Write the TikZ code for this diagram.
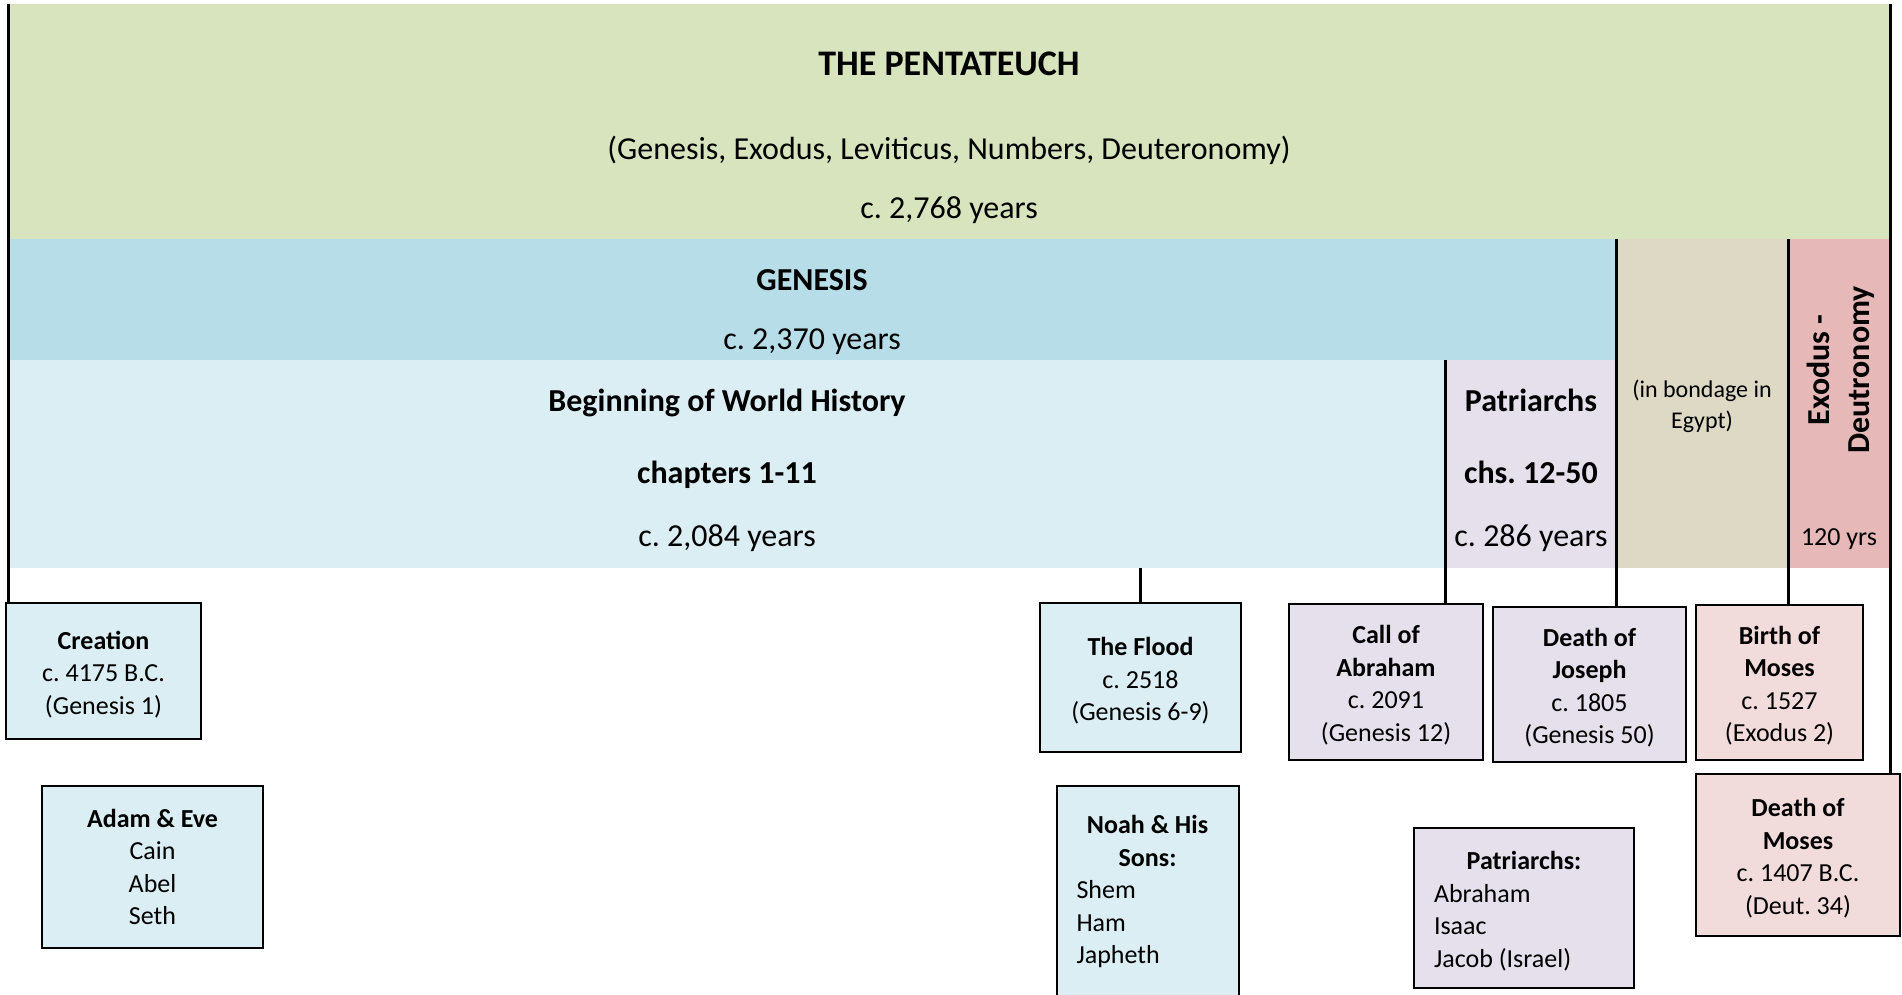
\documentclass[tikz,border=0pt]{standalone}
\usepackage{fontspec}
\setmainfont{Carlito}
\usepackage{tikz}
\usetikzlibrary{positioning,calc}
\frenchspacing

\definecolor{pentgreen}{HTML}{D7E4BD}
\definecolor{genblue}{HTML}{B7DDE8}
\definecolor{worldblue}{HTML}{DBEEF4}
\definecolor{patrlilac}{HTML}{E5E0EC}
\definecolor{egypttan}{HTML}{DDD9C4}
\definecolor{exodpink}{HTML}{E6B9B8}
\definecolor{mosespink}{HTML}{F2DCDB}

\newcommand{\boxtop}{\rule{0pt}{25pt}}

\begin{document}
\begin{tikzpicture}[x=1pt,y=-1pt,
	band/.style={rectangle,inner sep=0pt,anchor=north west},
	bandtxt/.style={anchor=base,inner sep=0pt,font=\fontsize{32}{38}\selectfont},
	bandhead/.style={anchor=base,inner sep=0pt,font=\fontsize{32}{38}\selectfont\bfseries},
	evbox/.style={draw=black,line width=2pt,rectangle,inner sep=0pt,align=center,font=\fontsize{26}{32.5}\selectfont},
	listbox/.style={evbox,align=flush left},
	link/.style={draw=black,line width=3pt}]
			\useasboundingbox (0,0) rectangle (1902,994);
			\fill[white] (0,0) rectangle (1902,994);
			
			\node[band,fill=pentgreen,minimum width=1882pt,minimum height=235pt] (pent) at (8,4) {};
			\node[band,fill=genblue,minimum width=1608pt,minimum height=121pt] (genesis) at (8,239) {};
			\node[band,fill=worldblue,minimum width=1437pt,minimum height=208pt] (world) at (8,360) {};
			\node[band,fill=patrlilac,minimum width=171pt,minimum height=208pt] (patr) at (1445,360) {};
			\node[band,fill=egypttan,minimum width=172pt,minimum height=329pt] (egypt) at (1616,239) {};
			\node[band,fill=exodpink,minimum width=102pt,minimum height=329pt] (exod) at (1788,239) {};
			
			\node[bandhead,font=\fontsize{36}{43}\selectfont\bfseries] (pentTitle) at (949,75) {THE PENTATEUCH};
			\node[bandtxt] (pentBooks) at (949,159) {(Genesis, Exodus, Leviticus, Numbers, Deuteronomy)};
			\node[bandtxt] (pentYears) at (949,218) {c. 2,768 years};
			\node[bandhead] (genTitle) at (812,290) {GENESIS};
			\node[bandtxt] (genYears) at (812,349) {c. 2,370 years};
			\node[bandhead] (worldTitle) at (727,411) {Beginning of World History};
			\node[bandhead] (worldChs) at (727,483) {chapters 1-11};
			\node[bandtxt] (worldYears) at (727,546) {c. 2,084 years};
			\node[bandhead] (patrTitle) at (1531,411) {Patriarchs};
			\node[bandhead] (patrChs) at (1531,483) {chs. 12-50};
			\node[bandtxt] (patrYears) at (1531,546) {c. 286 years};
			\node[align=center,inner sep=0pt,font=\fontsize{24}{31}\selectfont] (egyptTxt) at (1702,406) {(in bondage in\\Egypt)};
			\node[rotate=90,align=center,inner sep=0pt,font=\fontsize{32}{40}\selectfont\bfseries] (exodTitle) at (1841,370) {Exodus -\\Deutronomy};
			\node[bandtxt,font=\fontsize{26}{32}\selectfont] (exodYears) at (1839,545) {120 yrs};
			
			\node[evbox,fill=worldblue,minimum width=195pt,minimum height=136pt] (creation) at (103.5,671) {\boxtop\textbf{Creation}\\c. 4175 B.C.\\(Genesis 1)};
			\node[evbox,fill=worldblue,minimum width=221pt,minimum height=162pt] (adam) at (152.5,867) {\textbf{Adam \& Eve}\\Cain\\Abel\\Seth};
			\node[evbox,fill=worldblue,minimum width=201pt,minimum height=149pt] (flood) at (1140.5,677.5) {\boxtop\textbf{The Flood}\\c. 2518\\(Genesis 6-9)};
			\node[listbox,fill=worldblue,minimum width=182pt,minimum height=211pt,text width=142pt] (noah) at (1147.5,891.5) {\makebox[\hsize]{\bfseries Noah \& His}\\\makebox[\hsize]{\bfseries Sons:}\\Shem\\Ham\\Japheth};
			\node[evbox,fill=patrlilac,minimum width=194pt,minimum height=156pt] (callabr) at (1386,682) {\boxtop\textbf{Call of}\\\textbf{Abraham}\\c. 2091\\(Genesis 12)};
			\node[evbox,fill=patrlilac,minimum width=193pt,minimum height=155pt] (josdeath) at (1589.5,684.5) {\boxtop\textbf{Death of}\\\textbf{Joseph}\\c. 1805\\(Genesis 50)};
			\node[listbox,fill=patrlilac,minimum width=220pt,minimum height=160pt,text width=180pt] (patrlist) at (1524,908) {\boxtop\makebox[\hsize]{\bfseries Patriarchs:}\\Abraham\\Isaac\\Jacob (Israel)};
			\node[evbox,fill=mosespink,minimum width=167pt,minimum height=155pt] (mosbirth) at (1779.5,682.5) {\boxtop\textbf{Birth of}\\\textbf{Moses}\\c. 1527\\(Exodus 2)};
			\node[evbox,fill=mosespink,minimum width=204pt,minimum height=162pt] (mosdeath) at (1798,855) {\boxtop\textbf{Death of}\\\textbf{Moses}\\c. 1407 B.C.\\(Deut. 34)};
			
			\draw[link] (pent.north west) -- (pent.north west |- creation.north);
			\draw[link] (pent.north east) -- (pent.north east |- mosdeath.north);
			\draw[link] (flood.north) -- (flood.north |- world.south);
			\draw[link] (patr.north west) -- (patr.north west |- callabr.north);
			\draw[link] (egypt.north west) -- (egypt.north west |- josdeath.north);
			\draw[link] (exod.north west) -- (exod.north west |- mosbirth.north);
\end{tikzpicture}
\end{document}
